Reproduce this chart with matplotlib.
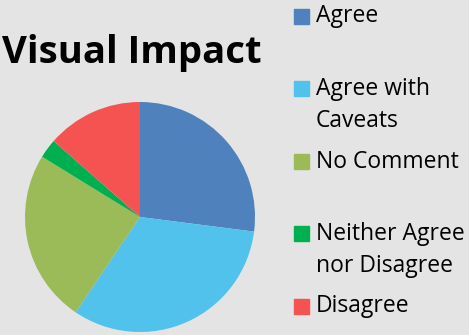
import matplotlib
matplotlib.use("Agg")
import matplotlib.pyplot as plt
from matplotlib.patches import Rectangle

# survey responses
labels = ["Agree", "Agree with\nCaveats", "No Comment", "Neither Agree\nnor Disagree", "Disagree"]
counts = [10, 12, 9, 1, 5]
colors = ["#4F81BD", "#50C2EC", "#9BBB59", "#00B050", "#F55252"]

W, H = 469, 335
bg = "#E4E4E4"
plt.rcParams['font.family'] = ['Open Sans', 'DejaVu Sans']

fig = plt.figure(figsize=(W / 100, H / 100), dpi=100, facecolor=bg)

# pie axes: centre (140, 217) px, radius 115 px
cx, cy, r = 140, 217, 115
ax = fig.add_axes([(cx - r) / W, (H - cy - r) / H, 2 * r / W, 2 * r / H])
ax.set_facecolor(bg)
ax.pie(counts, colors=colors, startangle=90, counterclock=False,
       wedgeprops=dict(linewidth=0))
ax.set_xlim(-1, 1)
ax.set_ylim(-1, 1)
ax.set_aspect("equal")
ax.axis("off")

fig.text(132 / W, 1 - 53 / H, "Visual Impact", ha="center", va="center",
         fontsize=27.5, fontweight="bold")

# legend, drawn by hand to keep the uneven spacing
rows = [16.5, 88.5, 161.5, 233.5, 306]
sq = 15
for lab, col, y in zip(labels, colors, rows):
    fig.patches.append(Rectangle((294 / W, 1 - (y + sq / 2) / H), sq / W, sq / H,
                                 transform=fig.transFigure, color=col))
    yc = y + 16.5 if "\n" in lab else y
    fig.text(316 / W, 1 - yc / H, lab, ha="left", va="center",
             fontsize=16.5, linespacing=1.45)

fig.savefig("out.png", dpi=100, facecolor=bg)
